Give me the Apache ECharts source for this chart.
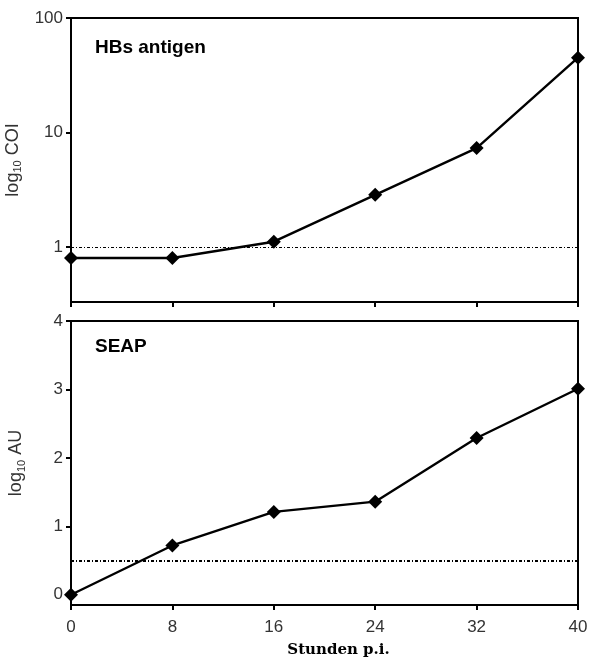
<!DOCTYPE html>
<html>
<head>
<meta charset="utf-8">
<script src="https://cdn.jsdelivr.net/npm/echarts@6/dist/echarts.min.js"></script>
<style>html,body{margin:0;padding:0;background:#fff;}#c{width:589px;height:657px;}</style>
</head>
<body>
<div id="c"></div>
<script>
const hours = [0, 8, 16, 24, 32, 40];
const hbsCOI = [0.80, 0.80, 1.11, 2.85, 7.3, 45];
const seapLogAU = [0.0, 0.72, 1.21, 1.36, 2.29, 3.01];
const hbsCutoff = 1;
const seapCutoff = 0.5;
const xTicks = [0, 8, 16, 24, 32, 40];
const seapTicks = [0, 1, 2, 3, 4];

const chart = echarts.init(document.getElementById('c'));
const font = 'Liberation Sans, Arial, sans-serif';
const axisLineStyle = { color: '#000', width: 2 };
const cutLine = (v, w) => ({
  symbol: 'none', silent: true, label: { show: false },
  lineStyle: { color: '#000', width: w, type: [3, 2, 1, 2] },
  data: [{ yAxis: v }]
});
const nameRich = {
  a: { fontSize: 18, fontFamily: font, color: '#333', lineHeight: 22 },
  b: { fontSize: 11, fontFamily: font, color: '#333', lineHeight: 11, verticalAlign: 'bottom' }
};
chart.setOption({
  animation: false,
  backgroundColor: '#fff',
  title: [
    { text: 'HBs antigen', left: 90, top: 33, textStyle: { fontFamily: font, fontSize: 19, fontWeight: 'bold', color: '#000' } },
    { text: 'SEAP', left: 90, top: 332, textStyle: { fontFamily: font, fontSize: 19, fontWeight: 'bold', color: '#000' } }
  ],
  grid: [
    { left: 71, right: 11, top: 18, height: 284, show: true, borderColor: '#000', borderWidth: 2, outerBoundsMode: 'none', containLabel: false },
    { left: 71, right: 11, top: 321, height: 284, show: true, borderColor: '#000', borderWidth: 2, outerBoundsMode: 'none', containLabel: false }
  ],
  xAxis: [
    { type: 'value', gridIndex: 0, min: 0, max: 40, interval: 8,
      axisLine: { onZero: false, lineStyle: axisLineStyle }, axisTick: { lineStyle: axisLineStyle, length: 5 },
      axisLabel: { show: false }, splitLine: { show: false } },
    { type: 'value', gridIndex: 1, min: 0, max: 40, interval: 8,
      axisLine: { onZero: false, lineStyle: axisLineStyle }, axisTick: { lineStyle: axisLineStyle, length: 5 },
      axisLabel: { fontFamily: font, fontSize: 17, color: '#333', margin: 14 },
      splitLine: { show: false },
      name: 'Stunden p.i.', nameLocation: 'middle', nameGap: 38,
      nameTextStyle: { fontFamily: 'DejaVu Serif', fontWeight: 'bold', fontSize: 15, color: '#000', padding: [0, 0, 0, 28] } }
  ],
  yAxis: [
    { type: 'log', gridIndex: 0, logBase: 10, min: 0.33, max: 100,
      axisLine: { show: true, onZero: false, lineStyle: axisLineStyle }, axisTick: { show: true, lineStyle: axisLineStyle, length: 5 },
      axisLabel: { fontFamily: font, fontSize: 17, color: '#333', margin: 8, showMinLabel: false },
      splitLine: { show: false }, minorTick: { show: false },
      name: '{a|log}{b|10}{a| COI}', nameLocation: 'middle', nameGap: 44, nameRotate: 90,
      nameTextStyle: { rich: nameRich } },
    { type: 'value', gridIndex: 1, min: -0.15, max: 4,
      axisLine: { show: true, onZero: false, lineStyle: axisLineStyle },
      axisTick: { show: true, lineStyle: axisLineStyle, length: 5, customValues: seapTicks },
      axisLabel: { fontFamily: font, fontSize: 17, color: '#333', margin: 8, customValues: seapTicks },
      splitLine: { show: false },
      name: '{a|log}{b|10}{a| AU}', nameLocation: 'middle', nameGap: 44, nameRotate: 90,
      nameTextStyle: { rich: nameRich } }
  ],
  series: [
    { type: 'line', xAxisIndex: 0, yAxisIndex: 0,
      data: hours.map((h, i) => [h, hbsCOI[i]]),
      symbol: 'diamond', symbolSize: 14, itemStyle: { color: '#000' },
      lineStyle: { color: '#000', width: 2.4 }, markLine: cutLine(hbsCutoff, 1.2), clip: false },
    { type: 'line', xAxisIndex: 1, yAxisIndex: 1,
      data: hours.map((h, i) => [h, seapLogAU[i]]),
      symbol: 'diamond', symbolSize: 14, itemStyle: { color: '#000' },
      lineStyle: { color: '#000', width: 2.4 }, markLine: cutLine(seapCutoff, 2), clip: false }
  ]
});
</script>
</body>
</html>
